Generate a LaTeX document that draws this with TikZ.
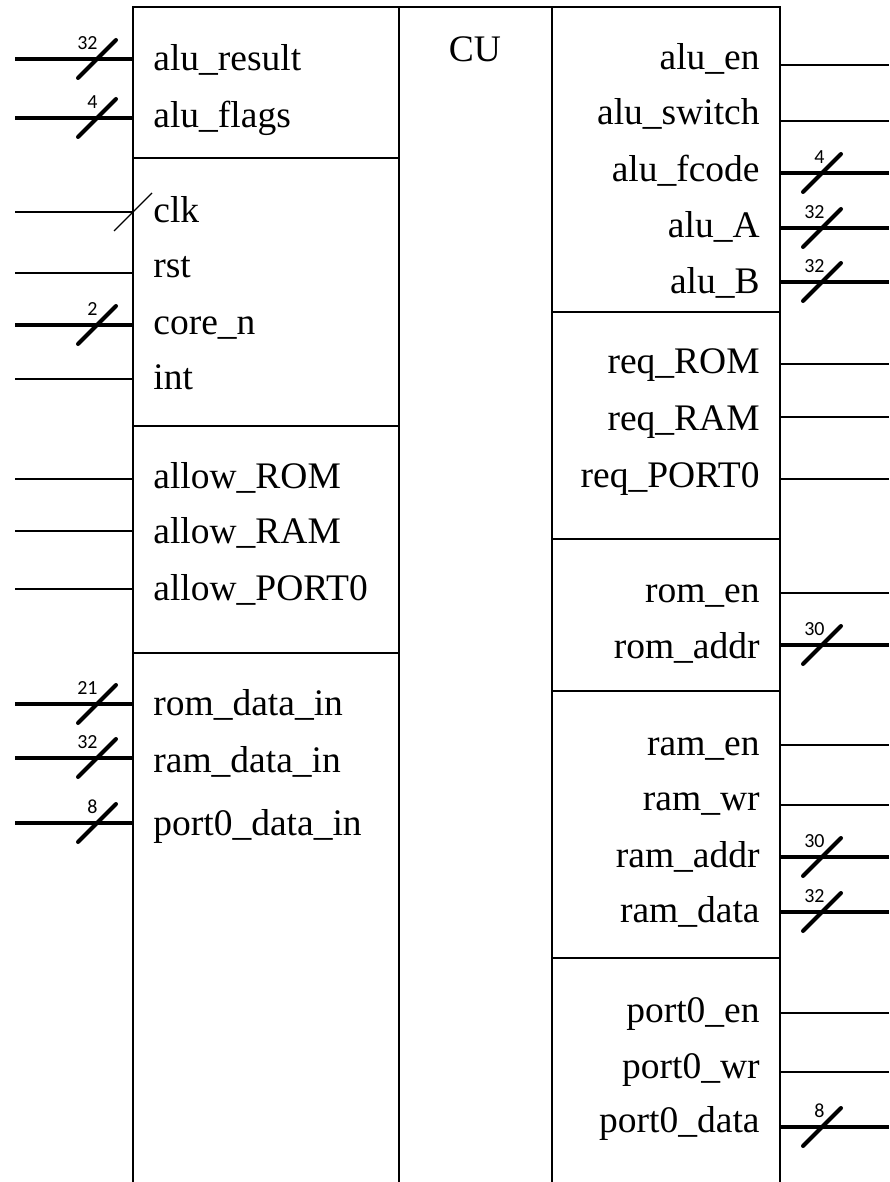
\documentclass[tikz,border=0pt]{standalone}
\usepackage{fontspec}
\setmainfont{Liberation Serif}
\newfontfamily\widthfont{Carlito}
\begin{document}
\begin{tikzpicture}[x=0.5pt,y=-0.5pt,
  frame/.style={line width=1.15pt},
  wire/.style={line width=0.85pt},
  bus/.style={line width=2pt},
  busmark/.style={line width=2pt, line cap=round},
  clkmark/.style={line width=0.7pt},
  pinlabel/.style={inner sep=0pt, font=\fontsize{18.75}{22}\selectfont},
  buswidth/.style={inner sep=0pt, font=\widthfont\fontsize{10}{12}\selectfont, anchor=south east},
]
\useasboundingbox (0,0) rectangle (889,1182);

% block outline and its three columns
\draw[frame] (133,1190) -- (133,7) -- (780,7) -- (780,1190);
\draw[frame] (399,7) -- (399,1190);
\draw[frame] (552,7) -- (552,1190);

% group separators, input side
\foreach \y in {158,426,653}
  \draw[frame] (133,\y) -- (399,\y);
% group separators, output side
\foreach \y in {312,539,691,958}
  \draw[frame] (552,\y) -- (780,\y);

\node[pinlabel, anchor=base] (cu) at (475,62) {CU};

% single-bit inputs
\foreach \name/\yl/\yt [count=\i] in {
    rst/273/278, int/379/389,
    allow\_ROM/479/488, allow\_RAM/531/543, allow\_PORT0/589/600} {
  \node[pinlabel, anchor=base west] (li\i) at (153,\yt) {\name};
  \coordinate (lin\i) at (133,\yl);
  \coordinate (lout\i) at (15,\yl);
  \draw[wire] (lout\i) -- (lin\i);
}

% clock input with its thin mark
\node[pinlabel, anchor=base west] (clk) at (153,222) {clk};
\coordinate (clkin) at (133,212);
\coordinate (clkout) at (15,212);
\draw[wire] (clkout) -- (clkin);
\draw[clkmark] (clkin) ++(-19,19) -- ++(38,-38);

% multi-bit inputs
\foreach \name/\yl/\yt/\w [count=\i] in {
    alu\_result/59/71/32, alu\_flags/118/128/4, core\_n/325/334/2,
    rom\_data\_in/704/715/21, ram\_data\_in/758/772/32,
    port0\_data\_in/823/835/8} {
  \node[pinlabel, anchor=base west] (lb\i) at (153,\yt) {\name};
  \coordinate (lbin\i) at (133,\yl);
  \coordinate (lbout\i) at (15,\yl);
  \coordinate (lbm\i) at (97,\yl);
  \draw[bus] (lbout\i) -- (lbin\i);
  \draw[busmark] (lbm\i) ++(-19,19) -- ++(38,-38);
  \node[buswidth] (lbw\i) at ([shift={(1,-9)}]lbm\i) {\w};
}

% single-bit outputs
\foreach \name/\yl/\yt [count=\i] in {
    alu\_en/65/70, alu\_switch/121/125,
    req\_ROM/364/373, req\_RAM/417/430, req\_PORT0/479/487,
    rom\_en/593/602, ram\_en/745/755, ram\_wr/805/810,
    port0\_en/1013/1022, port0\_wr/1072/1078} {
  \node[pinlabel, anchor=base east] (ro\i) at (760,\yt) {\name};
  \coordinate (rin\i) at (780,\yl);
  \coordinate (rout\i) at (889,\yl);
  \draw[wire] (rin\i) -- (rout\i);
}

% multi-bit outputs
\foreach \name/\yl/\yt/\w [count=\i] in {
    alu\_fcode/173/182/4, alu\_A/228/238/32, alu\_B/282/293/32,
    rom\_addr/645/658/30, ram\_addr/857/867/30, ram\_data/912/922/32,
    port0\_data/1127/1132/8} {
  \node[pinlabel, anchor=base east] (rb\i) at (760,\yt) {\name};
  \coordinate (rbin\i) at (780,\yl);
  \coordinate (rbout\i) at (889,\yl);
  \coordinate (rbm\i) at (822,\yl);
  \draw[bus] (rbin\i) -- (rbout\i);
  \draw[busmark] (rbm\i) ++(-19,19) -- ++(38,-38);
  \node[buswidth] (rbw\i) at ([shift={(3,-9)}]rbm\i) {\w};
}
\end{tikzpicture}
\end{document}
